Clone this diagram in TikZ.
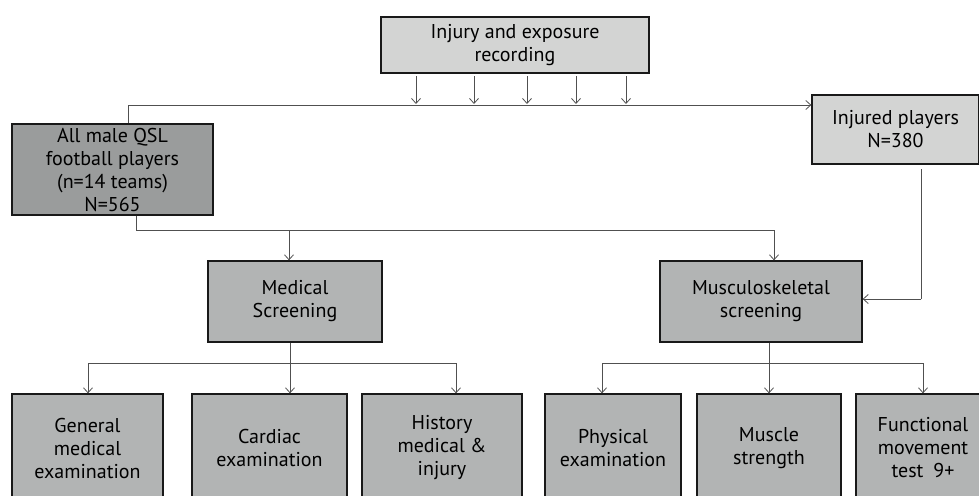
\documentclass[tikz,border=0pt]{standalone}
\usepackage{fontspec}
\setmainfont{PT Sans}
\usetikzlibrary{arrows.meta,calc}
\definecolor{lightbox}{HTML}{D3D4D3}
\definecolor{darkbox}{HTML}{9A9C9C}
\definecolor{midbox}{HTML}{B2B4B4}
\definecolor{conn}{HTML}{505050}
\begin{document}
\begin{tikzpicture}[x=1pt,y=-1pt,
  box/.style={draw=black!90,line width=1.3pt,rectangle,align=center,inner sep=2pt,
    font=\fontsize{20}{23}\selectfont},
  conline/.style={draw=conn,line width=0.9pt},
  arr/.style={conline,-{Straight Barb[length=5pt,width=9pt,line width=0.8pt]}}]
\useasboundingbox (0,0) rectangle (979,495);
\clip (0,0) rectangle (979,495);
% nodes
\node[box,fill=lightbox,minimum width=268pt,minimum height=56pt] (top) at (515,45) {Injury and exposure\\recording};
\node[box,fill=darkbox,minimum width=201pt,minimum height=91pt] (allmale) at (112.5,169.5) {All male QSL\\football players\\(n=14 teams)\\N=565};
\node[box,fill=lightbox,minimum width=167pt,minimum height=69pt] (injured) at (895.5,129.5) {Injured players\\N=380};
\node[box,fill=midbox,minimum width=174pt,minimum height=81pt] (medical) at (295,301.5) {Medical\\Screening};
\node[box,fill=midbox,minimum width=202pt,minimum height=81pt] (musculo) at (761,301.5) {Musculoskeletal\\screening};
\node[box,fill=midbox,minimum width=151pt,minimum height=108pt] (general) at (87.5,448) {General\\medical\\examination};
\node[box,fill=midbox,minimum width=155pt,minimum height=108pt] (cardiac) at (269.5,448) {Cardiac\\examination};
\node[box,fill=midbox,minimum width=160pt,minimum height=108pt] (history) at (442,448) {History\\medical \&\\injury};
\node[box,fill=midbox,minimum width=136pt,minimum height=108pt] (physical) at (613,448) {Physical\\examination};
\node[box,fill=midbox,minimum width=144pt,minimum height=108pt] (muscle) at (769,448) {Muscle\\strength};
\node[box,fill=midbox,minimum width=134pt,minimum height=108pt] (functional) at (923,448) {Functional\\movement\\test\enspace 9+};
% coordinates
\coordinate (hl) at (128,105);
\coordinate (jA) at (136,230);
\coordinate (jB) at (289,230);
\coordinate (jC) at (774,230);
\coordinate (inj) at (921,299);
\coordinate (mA) at (88,363);
\coordinate (mB) at (290,363);
\coordinate (mC) at (456,363);
\coordinate (sA) at (602,363);
\coordinate (sB) at (769,363);
\coordinate (sC) at (923,363);
% injury recording arrows
\foreach \xx in {416,474,527,576,626}{
  \coordinate (ts\xx) at (\xx,76);
  \coordinate (te\xx) at (\xx,104);
  \draw[arr] (ts\xx) -- (te\xx);
}
% main line
\draw[conline] (allmale.north -| hl) -- (hl);
\draw[arr] (hl) -- (injured.west |- hl);
% from all players
\draw[conline] (allmale.south -| jA) -- (jA) -- (jC);
\draw[arr] (jB) -- (medical.north -| jB);
\draw[arr] (jC) -- (musculo.north -| jC);
% injured to musculo
\coordinate (injs) at (921,169);
\draw[conline] (injs) -- (inj);
\draw[arr] (inj) -- (musculo.east |- inj);
% medical branch
\draw[conline] (medical.south -| mB) -- (mB);
\draw[conline] (mA) -- (mC);
\draw[arr] (mA) -- (general.north -| mA);
\draw[arr] (mB) -- (cardiac.north -| mB);
\draw[arr] (mC) -- (history.north -| mC);
% musculo branch
\draw[conline] (musculo.south -| sB) -- (sB);
\draw[conline] (sA) -- (sC);
\draw[arr] (sA) -- (physical.north -| sA);
\draw[arr] (sB) -- (muscle.north -| sB);
\draw[arr] (sC) -- (functional.north -| sC);
\end{tikzpicture}
\end{document}
